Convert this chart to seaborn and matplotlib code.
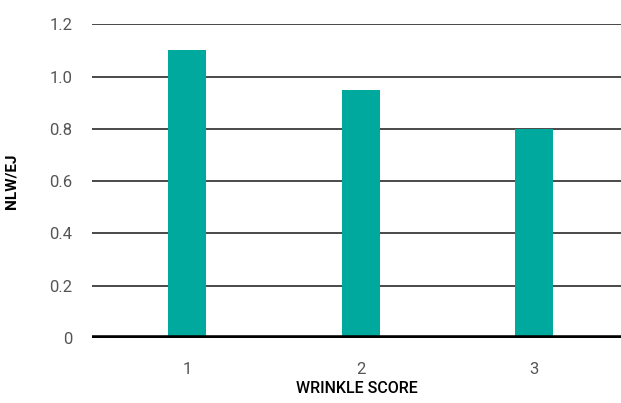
import pandas as pd
import matplotlib
matplotlib.use("Agg")
import matplotlib.pyplot as plt
import seaborn as sns

# data
scores = ["1", "2", "3"]
nlw_ej = [1.1, 0.95, 0.8]
y_ticks = [0, 0.2, 0.4, 0.6, 0.8, 1.0, 1.2]
y_labels = ["0", "0.2", "0.4", "0.6", "0.8", "1.0", "1.2"]

sns.set_theme(style="white")
plt.rcParams["font.family"] = ["Roboto", "DejaVu Sans"]

df = pd.DataFrame({"score": scores, "value": nlw_ej})

fig = plt.figure(figsize=(6.21, 4.03), dpi=100)
ax = fig.add_axes([0.148, 0.161, 0.852, 0.779])

sns.barplot(data=df, x="score", y="value", color="#00A99D",
            width=0.22, saturation=1, linewidth=0, edgecolor="none",
            ax=ax, zorder=3)

ax.set_ylim(0, 1.2)
ax.set_xlim(-0.55, 2.5)
ax.set_yticks(y_ticks)
ax.set_yticklabels(y_labels)
for y in y_ticks[1:]:
    ax.axhline(y, color="#2a2a2a", lw=1.2, zorder=1)
ax.axhline(0, color="black", lw=4, zorder=4)

for s in ax.spines.values():
    s.set_visible(False)
ax.tick_params(axis="y", length=0, pad=14, labelsize=12, labelcolor="#555555")
ax.tick_params(axis="x", length=0, pad=17, labelsize=12, labelcolor="#555555")

ax.set_xlabel("WRINKLE SCORE", fontsize=11.5, fontweight="medium", color="black", labelpad=3)
ax.set_ylabel("NLW/EJ", fontsize=11, fontweight="bold", color="black", labelpad=22)

fig.savefig("out.png", dpi=100)
